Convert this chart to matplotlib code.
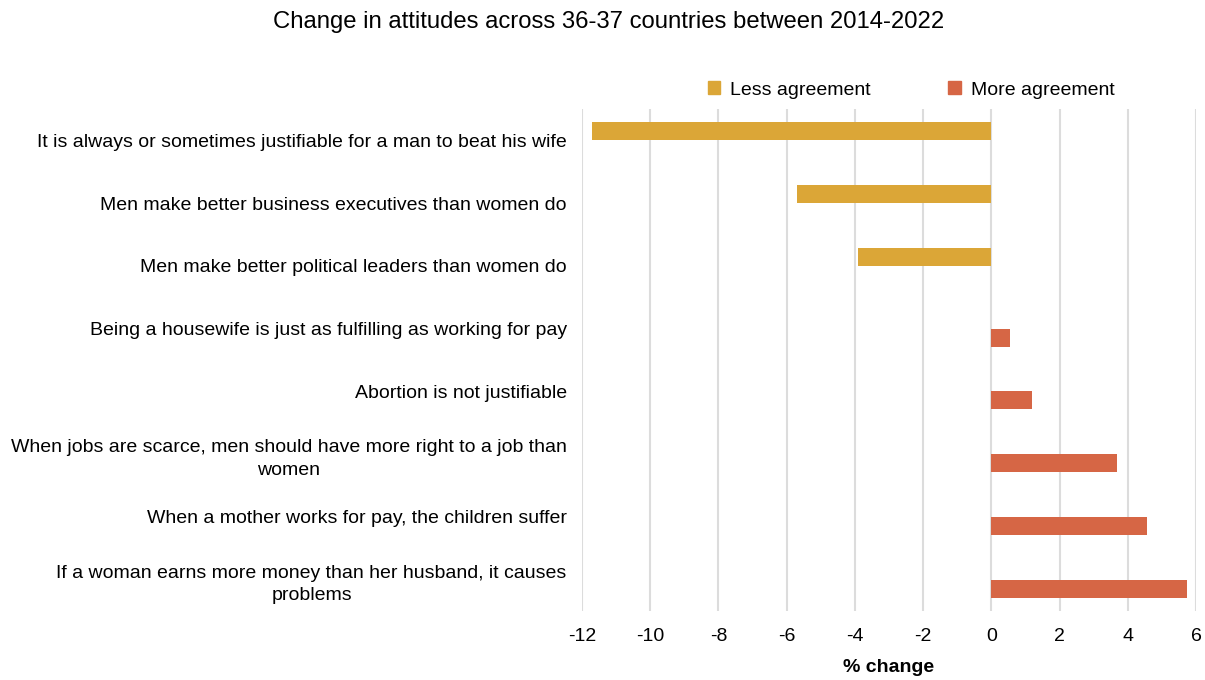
import matplotlib
matplotlib.use("Agg")
import matplotlib.pyplot as plt
import numpy as np
from matplotlib.patches import Patch

plt.rcParams['font.family'] = ['Liberation Sans', 'DejaVu Sans']

categories = [
    "It is always or sometimes justifiable for a man to beat his wife",
    "Men make better business executives than women do",
    "Men make better political leaders than women do",
    "Being a housewife is just as fulfilling as working for pay",
    "Abortion is not justifiable",
    "When jobs are scarce, men should have more right to a job than\nwomen",
    "When a mother works for pay, the children suffer",
    "If a woman earns more money than her husband, it causes\nproblems",
]
less_agreement = [-11.7, -5.7, -3.9, 0, 0, 0, 0, 0]
more_agreement = [0, 0, 0, 0.56, 1.2, 3.68, 4.56, 5.74]
series_names = ["Less agreement", "More agreement"]
xticks = [-12, -10, -8, -6, -4, -2, 0, 2, 4, 6]

c_less = "#DBA637"
c_more = "#D66645"

fig = plt.figure(figsize=(12.05, 6.8), dpi=100)
ax = fig.add_axes([582/1205, 1-611/680, (1196-582)/1205, (611-109)/680])

n = len(categories)
y = np.arange(n)
bw = 0.288
ax.barh(y - bw/2, less_agreement, height=bw, color=c_less, zorder=3)
ax.barh(y + bw/2, more_agreement, height=bw, color=c_more, zorder=3)

ax.set_ylim(n - 0.5, -0.5)
ax.set_xlim(-12, 6)
ax.set_xticks(xticks)
ax.set_xticklabels([str(t) for t in xticks], fontsize=14)
ax.set_yticks(y)
ax.set_yticklabels(categories, fontsize=14, multialignment='center', linespacing=1.45)
ax.tick_params(axis='both', length=0)
ax.tick_params(axis='y', pad=11)
ax.tick_params(axis='x', pad=12)
ax.grid(axis='x', color='#dcdcdc', linewidth=1.5, zorder=0)
ax.set_axisbelow(True)
for s in ax.spines.values():
    s.set_visible(False)

ax.set_xlabel("% change", fontsize=14, fontweight='bold', labelpad=10)

fig.suptitle("Change in attitudes across 36-37 countries between 2014-2022",
             fontsize=17.2, x=609/1205, y=1-22/680, va='center')

handles = [Patch(color=c_less), Patch(color=c_more)]
fig.legend(handles, series_names, loc='center', ncol=2,
           bbox_to_anchor=(911/1205, 1-90/680), frameon=False, fontsize=14,
           handlelength=0.65, handleheight=0.65, handletextpad=0.5,
           columnspacing=4.0)

fig.savefig("out.png", dpi=100)
